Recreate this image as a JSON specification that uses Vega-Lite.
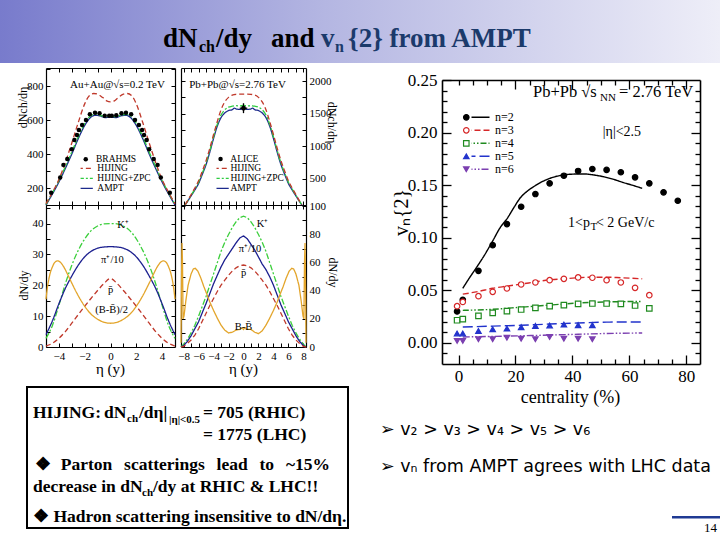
{
"$schema": "https://vega.github.io/schema/vega-lite/v6.json",
"width": 720, "height": 540, "autosize": {"type": "none"}, "padding": 0, "background": "white",
"config": {
 "view": {"stroke": null},
 "font": "Liberation Serif",
 "axis": {"grid": false, "labelFont": "Liberation Serif", "titleFont": "Liberation Serif", "labelColor": "#000", "titleColor": "#000", "tickColor": "#000", "domainColor": "#000", "titleFontWeight": "normal", "labelFlush": false, "labelOverlap": false, "labelBound": false, "minExtent": 0, "maxExtent": 200, "titleBaseline": "middle", "titleAlign": "center", "tickWidth": 1},
 "legend": {"labelFont": "Liberation Serif", "labelColor": "#000", "padding": 0, "rowPadding": 0, "direction": "vertical"}
},
"resolve": {
 "scale": {"x": "independent", "y": "independent", "stroke": "independent", "strokeDash": "independent", "shape": "independent", "fill": "independent"},
 "axis": {"x": "independent", "y": "independent"},
 "legend": {"stroke": "independent", "strokeDash": "independent", "shape": "independent", "fill": "independent"}
},
"layer": [
 {"layer": [
  {"data": {"values": [{"x0": 0, "x1": 720, "y0": 0, "y1": 63}]},
   "mark": {"type": "rect", "stroke": null, "fill": {"gradient": "linear", "x1": 0, "y1": 0, "x2": 1, "y2": 0, "stops": [{"offset": 0, "color": "#787bcc"}, {"offset": 0.45, "color": "#b4b6e2"}, {"offset": 1, "color": "#eeeef8"}]}},
   "encoding": {"x": {"field": "x0", "type": "quantitative", "scale": {"domain": [0, 720], "range": [0, 720], "nice": false, "zero": false}, "axis": null}, "x2": {"field": "x1"},
    "y": {"field": "y0", "type": "quantitative", "scale": {"domain": [0, 63], "range": [0, 63], "nice": false, "zero": false}, "axis": null}, "y2": {"field": "y1"}}},
  {"data": {"values": [{"x": 163, "y": 47, "t": "dN"}, {"x": 216, "y": 47, "t": "/dy"}, {"x": 271, "y": 47, "t": "and"}]},
   "mark": {"type": "text", "align": "left", "baseline": "alphabetic", "fontWeight": "bold", "fontSize": 27, "fill": "#000"},
   "encoding": {"x": {"field": "x", "type": "quantitative", "axis": null}, "y": {"field": "y", "type": "quantitative", "axis": null}, "text": {"field": "t"}}},
  {"data": {"values": [{"x": 199, "y": 52, "t": "ch"}]},
   "mark": {"type": "text", "align": "left", "baseline": "alphabetic", "fontWeight": "bold", "fontSize": 16, "fill": "#000"},
   "encoding": {"x": {"field": "x", "type": "quantitative", "axis": null}, "y": {"field": "y", "type": "quantitative", "axis": null}, "text": {"field": "t"}}},
  {"data": {"values": [{"x": 321, "y": 47, "t": "v"}, {"x": 348, "y": 47, "t": "{2} from AMPT"}]},
   "mark": {"type": "text", "align": "left", "baseline": "alphabetic", "fontWeight": "bold", "fontSize": 27, "fill": "#1b3a6b"},
   "encoding": {"x": {"field": "x", "type": "quantitative", "axis": null}, "y": {"field": "y", "type": "quantitative", "axis": null}, "text": {"field": "t"}}},
  {"data": {"values": [{"x": 335, "y": 52, "t": "n"}]},
   "mark": {"type": "text", "align": "left", "baseline": "alphabetic", "fontWeight": "bold", "fontSize": 16, "fill": "#1b3a6b"},
   "encoding": {"x": {"field": "x", "type": "quantitative", "axis": null}, "y": {"field": "y", "type": "quantitative", "axis": null}, "text": {"field": "t"}}}
 ]},

 {"layer": [
  {"data": {"values": [
    {"m":"AMPT","eta":-5,"v":100},{"m":"AMPT","eta":-4.5,"v":165},{"m":"AMPT","eta":-4,"v":235},{"m":"AMPT","eta":-3.5,"v":315},{"m":"AMPT","eta":-3,"v":400},{"m":"AMPT","eta":-2.5,"v":490},{"m":"AMPT","eta":-2,"v":568},{"m":"AMPT","eta":-1.5,"v":618},{"m":"AMPT","eta":-1.2,"v":628},{"m":"AMPT","eta":-0.8,"v":624},{"m":"AMPT","eta":-0.4,"v":614},{"m":"AMPT","eta":0,"v":618},{"m":"AMPT","eta":0.4,"v":614},{"m":"AMPT","eta":0.8,"v":624},{"m":"AMPT","eta":1.2,"v":628},{"m":"AMPT","eta":1.5,"v":618},{"m":"AMPT","eta":2,"v":568},{"m":"AMPT","eta":2.5,"v":490},{"m":"AMPT","eta":3,"v":400},{"m":"AMPT","eta":3.5,"v":315},{"m":"AMPT","eta":4,"v":235},{"m":"AMPT","eta":4.5,"v":165},{"m":"AMPT","eta":5,"v":100},
    {"m":"HIJING+ZPC","eta":-5,"v":104},{"m":"HIJING+ZPC","eta":-4.5,"v":172},{"m":"HIJING+ZPC","eta":-4,"v":244},{"m":"HIJING+ZPC","eta":-3.5,"v":326},{"m":"HIJING+ZPC","eta":-3,"v":412},{"m":"HIJING+ZPC","eta":-2.5,"v":502},{"m":"HIJING+ZPC","eta":-2,"v":580},{"m":"HIJING+ZPC","eta":-1.5,"v":627},{"m":"HIJING+ZPC","eta":-1.2,"v":634},{"m":"HIJING+ZPC","eta":-0.8,"v":628},{"m":"HIJING+ZPC","eta":-0.4,"v":620},{"m":"HIJING+ZPC","eta":0,"v":622},{"m":"HIJING+ZPC","eta":0.4,"v":620},{"m":"HIJING+ZPC","eta":0.8,"v":628},{"m":"HIJING+ZPC","eta":1.2,"v":634},{"m":"HIJING+ZPC","eta":1.5,"v":627},{"m":"HIJING+ZPC","eta":2,"v":580},{"m":"HIJING+ZPC","eta":2.5,"v":502},{"m":"HIJING+ZPC","eta":3,"v":412},{"m":"HIJING+ZPC","eta":3.5,"v":326},{"m":"HIJING+ZPC","eta":4,"v":244},{"m":"HIJING+ZPC","eta":4.5,"v":172},{"m":"HIJING+ZPC","eta":5,"v":104},
    {"m":"HIJING","eta":-5,"v":108},{"m":"HIJING","eta":-4.5,"v":175},{"m":"HIJING","eta":-4,"v":250},{"m":"HIJING","eta":-3.5,"v":350},{"m":"HIJING","eta":-3,"v":465},{"m":"HIJING","eta":-2.5,"v":585},{"m":"HIJING","eta":-2,"v":695},{"m":"HIJING","eta":-1.7,"v":738},{"m":"HIJING","eta":-1.3,"v":756},{"m":"HIJING","eta":-1,"v":752},{"m":"HIJING","eta":-0.6,"v":732},{"m":"HIJING","eta":-0.3,"v":713},{"m":"HIJING","eta":0,"v":707},{"m":"HIJING","eta":0.3,"v":713},{"m":"HIJING","eta":0.6,"v":732},{"m":"HIJING","eta":1,"v":752},{"m":"HIJING","eta":1.3,"v":756},{"m":"HIJING","eta":1.7,"v":738},{"m":"HIJING","eta":2,"v":695},{"m":"HIJING","eta":2.5,"v":585},{"m":"HIJING","eta":3,"v":465},{"m":"HIJING","eta":3.5,"v":350},{"m":"HIJING","eta":4,"v":250},{"m":"HIJING","eta":4.5,"v":175},{"m":"HIJING","eta":5,"v":108}
   ]},
   "mark": {"type": "line", "strokeWidth": 1.3, "interpolate": "monotone"},
   "encoding": {
    "x": {"field": "eta", "type": "quantitative", "scale": {"domain": [-5, 5], "range": [46, 175], "nice": false, "zero": false},
     "axis": {"orient": "bottom", "offset": -335, "values": [-4,-3,-2,-1,0,1,2,3,4], "tickSize": -4, "labels": false, "domain": true, "domainWidth": 1.2, "title": null}},
    "y": {"field": "v", "type": "quantitative", "scale": {"domain": [100, 906], "range": [205, 68], "nice": false, "zero": false},
     "axis": {"orient": "left", "offset": -46, "values": [200,300,400,500,600,700,800,900], "format": "d", "labelExpr": "datum.value % 200 === 0 ? datum.label : ''", "tickSize": -4, "labelPadding": 7, "labelFontSize": 11, "domain": true, "domainWidth": 1.2, "title": "dNch/dη", "titleFontSize": 12, "titleX": -24, "titleY": 107}},
    "stroke": {"field": "m", "type": "nominal", "scale": {"domain": ["HIJING","HIJING+ZPC","AMPT"], "range": ["#c0392b","#2ecc40","#1c2a8c"]},
     "legend": {"orient": "none", "legendX": 80.6, "legendY": 163.8, "title": null, "symbolType": "M-4,0L4,0", "symbolSize": 14, "symbolStrokeWidth": 1.3, "labelFontSize": 9.5, "labelOffset": 7.2, "clipHeight": 9}},
    "strokeDash": {"field": "m", "type": "nominal", "scale": {"domain": ["HIJING","HIJING+ZPC","AMPT"], "range": [[5,3],[6,2,2,2],[1,0]]},
     "legend": {"orient": "none", "legendX": 80.6, "legendY": 163.8, "title": null, "symbolType": "M-4,0L4,0", "symbolSize": 14, "symbolStrokeWidth": 1.3, "labelFontSize": 9.5, "labelOffset": 7.2, "clipHeight": 9}}
   }},
  {"data": {"values": [
    {"src":"BRAHMS","eta":-4.6,"v":172},{"src":"BRAHMS","eta":-3.9,"v":262},{"src":"BRAHMS","eta":-3.65,"v":336},{"src":"BRAHMS","eta":-3.35,"v":371},{"src":"BRAHMS","eta":-3,"v":428},{"src":"BRAHMS","eta":-2.8,"v":482},{"src":"BRAHMS","eta":-2.6,"v":512},{"src":"BRAHMS","eta":-2.45,"v":541},{"src":"BRAHMS","eta":-2.2,"v":571},{"src":"BRAHMS","eta":-1.9,"v":600},{"src":"BRAHMS","eta":-1.6,"v":634},{"src":"BRAHMS","eta":-1.2,"v":643},{"src":"BRAHMS","eta":-0.85,"v":640},{"src":"BRAHMS","eta":-0.45,"v":625},{"src":"BRAHMS","eta":-0.1,"v":625},
    {"src":"BRAHMS","eta":0.1,"v":625},{"src":"BRAHMS","eta":0.45,"v":628},{"src":"BRAHMS","eta":0.85,"v":640},{"src":"BRAHMS","eta":1.2,"v":643},{"src":"BRAHMS","eta":1.6,"v":634},{"src":"BRAHMS","eta":1.9,"v":600},{"src":"BRAHMS","eta":2.2,"v":571},{"src":"BRAHMS","eta":2.45,"v":541},{"src":"BRAHMS","eta":2.6,"v":512},{"src":"BRAHMS","eta":2.8,"v":482},{"src":"BRAHMS","eta":3,"v":428},{"src":"BRAHMS","eta":3.35,"v":371},{"src":"BRAHMS","eta":3.65,"v":336},{"src":"BRAHMS","eta":3.9,"v":262},{"src":"BRAHMS","eta":4.6,"v":172}
   ]},
   "mark": {"type": "point", "filled": true, "size": 20, "opacity": 1},
   "encoding": {
    "x": {"field": "eta", "type": "quantitative", "axis": {"orient": "top", "offset": -68, "values": [-4,-3,-2,-1,0,1,2,3,4], "tickSize": -4, "labels": false, "domain": true, "domainWidth": 1.2, "title": null}},
    "y": {"field": "v", "type": "quantitative", "axis": {"orient": "right", "offset": -545, "values": [200,300,400,500,600,700,800,900], "tickSize": -4, "labels": false, "domain": true, "domainWidth": 1.2, "title": null}},
    "fill": {"field": "src", "type": "nominal", "scale": {"range": ["#000000"]},
     "legend": {"orient": "none", "legendX": 81, "legendY": 154.8, "title": null, "symbolSize": 20, "labelFontSize": 9.5, "labelOffset": 5.5, "clipHeight": 9}}
   }},
  {"data": {"values": [{"eta": 0.54, "v": 806, "t": "Au+Au@√s=0.2 TeV"}]},
   "mark": {"type": "text", "fontSize": 11, "align": "center", "baseline": "middle"},
   "encoding": {"x": {"field": "eta", "type": "quantitative", "axis": null}, "y": {"field": "v", "type": "quantitative", "axis": null}, "text": {"field": "t"}}}
 ],
 "resolve": {"axis": {"x": "independent", "y": "independent"}}},

 {"layer": [
  {"data": {"values": [
    {"m":"AMPT","eta":-7.8,"v":100},{"m":"AMPT","eta":-7.5,"v":150},{"m":"AMPT","eta":-7,"v":240},{"m":"AMPT","eta":-6.5,"v":330},{"m":"AMPT","eta":-6,"v":430},{"m":"AMPT","eta":-5.5,"v":570},{"m":"AMPT","eta":-5,"v":720},{"m":"AMPT","eta":-4.5,"v":910},{"m":"AMPT","eta":-4,"v":1120},{"m":"AMPT","eta":-3.5,"v":1310},{"m":"AMPT","eta":-3,"v":1440},{"m":"AMPT","eta":-2.5,"v":1510},{"m":"AMPT","eta":-2,"v":1548},{"m":"AMPT","eta":-1.5,"v":1562},{"m":"AMPT","eta":-1.2,"v":1585},{"m":"AMPT","eta":-1,"v":1572},{"m":"AMPT","eta":-0.5,"v":1565},{"m":"AMPT","eta":0,"v":1582},{"m":"AMPT","eta":0.5,"v":1565},{"m":"AMPT","eta":1,"v":1572},{"m":"AMPT","eta":1.2,"v":1585},{"m":"AMPT","eta":1.5,"v":1562},{"m":"AMPT","eta":2,"v":1548},{"m":"AMPT","eta":2.5,"v":1510},{"m":"AMPT","eta":3,"v":1440},{"m":"AMPT","eta":3.5,"v":1310},{"m":"AMPT","eta":4,"v":1120},{"m":"AMPT","eta":4.5,"v":910},{"m":"AMPT","eta":5,"v":720},{"m":"AMPT","eta":5.5,"v":570},{"m":"AMPT","eta":6,"v":430},{"m":"AMPT","eta":6.5,"v":330},{"m":"AMPT","eta":7,"v":240},{"m":"AMPT","eta":7.5,"v":150},{"m":"AMPT","eta":7.8,"v":100},
    {"m":"HIJING+ZPC","eta":-7.8,"v":102},{"m":"HIJING+ZPC","eta":-7.5,"v":155},{"m":"HIJING+ZPC","eta":-7,"v":250},{"m":"HIJING+ZPC","eta":-6.5,"v":345},{"m":"HIJING+ZPC","eta":-6,"v":450},{"m":"HIJING+ZPC","eta":-5.5,"v":590},{"m":"HIJING+ZPC","eta":-5,"v":745},{"m":"HIJING+ZPC","eta":-4.5,"v":935},{"m":"HIJING+ZPC","eta":-4,"v":1145},{"m":"HIJING+ZPC","eta":-3.5,"v":1340},{"m":"HIJING+ZPC","eta":-3,"v":1480},{"m":"HIJING+ZPC","eta":-2.5,"v":1560},{"m":"HIJING+ZPC","eta":-2,"v":1600},{"m":"HIJING+ZPC","eta":-1.5,"v":1615},{"m":"HIJING+ZPC","eta":-1.2,"v":1620},{"m":"HIJING+ZPC","eta":-1,"v":1622},{"m":"HIJING+ZPC","eta":-0.5,"v":1618},{"m":"HIJING+ZPC","eta":0,"v":1625},{"m":"HIJING+ZPC","eta":0.5,"v":1618},{"m":"HIJING+ZPC","eta":1,"v":1622},{"m":"HIJING+ZPC","eta":1.2,"v":1620},{"m":"HIJING+ZPC","eta":1.5,"v":1615},{"m":"HIJING+ZPC","eta":2,"v":1600},{"m":"HIJING+ZPC","eta":2.5,"v":1560},{"m":"HIJING+ZPC","eta":3,"v":1480},{"m":"HIJING+ZPC","eta":3.5,"v":1340},{"m":"HIJING+ZPC","eta":4,"v":1145},{"m":"HIJING+ZPC","eta":4.5,"v":935},{"m":"HIJING+ZPC","eta":5,"v":745},{"m":"HIJING+ZPC","eta":5.5,"v":590},{"m":"HIJING+ZPC","eta":6,"v":450},{"m":"HIJING+ZPC","eta":6.5,"v":345},{"m":"HIJING+ZPC","eta":7,"v":250},{"m":"HIJING+ZPC","eta":7.5,"v":155},{"m":"HIJING+ZPC","eta":7.8,"v":102},
    {"m":"HIJING","eta":-7.8,"v":105},{"m":"HIJING","eta":-7.5,"v":160},{"m":"HIJING","eta":-7,"v":260},{"m":"HIJING","eta":-6.5,"v":360},{"m":"HIJING","eta":-6,"v":470},{"m":"HIJING","eta":-5.5,"v":620},{"m":"HIJING","eta":-5,"v":780},{"m":"HIJING","eta":-4.5,"v":970},{"m":"HIJING","eta":-4,"v":1180},{"m":"HIJING","eta":-3.5,"v":1380},{"m":"HIJING","eta":-3,"v":1560},{"m":"HIJING","eta":-2.5,"v":1680},{"m":"HIJING","eta":-2,"v":1750},{"m":"HIJING","eta":-1.5,"v":1785},{"m":"HIJING","eta":-1.2,"v":1793},{"m":"HIJING","eta":-1,"v":1797},{"m":"HIJING","eta":-0.5,"v":1800},{"m":"HIJING","eta":0,"v":1800},{"m":"HIJING","eta":0.5,"v":1800},{"m":"HIJING","eta":1,"v":1797},{"m":"HIJING","eta":1.2,"v":1793},{"m":"HIJING","eta":1.5,"v":1785},{"m":"HIJING","eta":2,"v":1750},{"m":"HIJING","eta":2.5,"v":1680},{"m":"HIJING","eta":3,"v":1560},{"m":"HIJING","eta":3.5,"v":1380},{"m":"HIJING","eta":4,"v":1180},{"m":"HIJING","eta":4.5,"v":970},{"m":"HIJING","eta":5,"v":780},{"m":"HIJING","eta":5.5,"v":620},{"m":"HIJING","eta":6,"v":470},{"m":"HIJING","eta":6.5,"v":360},{"m":"HIJING","eta":7,"v":260},{"m":"HIJING","eta":7.5,"v":160},{"m":"HIJING","eta":7.8,"v":105}
   ]},
   "mark": {"type": "line", "strokeWidth": 1.3, "interpolate": "monotone"},
   "encoding": {
    "x": {"field": "eta", "type": "quantitative", "scale": {"domain": [-8.35, 8.35], "range": [181, 306], "nice": false, "zero": false},
     "axis": {"orient": "bottom", "offset": -335, "values": [-8,-7,-6,-5,-4,-3,-2,-1,0,1,2,3,4,5,6,7,8], "tickSize": -4, "labels": false, "domain": true, "domainWidth": 1.2, "title": null}},
    "y": {"field": "v", "type": "quantitative", "scale": {"domain": [100, 2200], "range": [205, 68], "nice": false, "zero": false},
     "axis": {"orient": "right", "offset": -414, "values": [250,500,750,1000,1250,1500,1750,2000], "format": "d", "labelExpr": "datum.value % 500 === 0 ? datum.label : ''", "tickSize": -4, "labelPadding": 7, "labelFontSize": 11, "domain": true, "domainWidth": 1.2, "title": "dNch/dη", "titleFontSize": 12, "titleX": 25, "titleY": 122}},
    "stroke": {"field": "m", "type": "nominal", "scale": {"domain": ["HIJING","HIJING+ZPC","AMPT"], "range": ["#c0392b","#2ecc40","#1c2a8c"]},
     "legend": {"orient": "none", "legendX": 216.5, "legendY": 163.8, "title": null, "symbolType": "M-4,0L4,0", "symbolSize": 14, "symbolStrokeWidth": 1.3, "labelFontSize": 9.5, "labelOffset": 4.5, "clipHeight": 9}},
    "strokeDash": {"field": "m", "type": "nominal", "scale": {"domain": ["HIJING","HIJING+ZPC","AMPT"], "range": [[5,3],[6,2,2,2],[1,0]]},
     "legend": {"orient": "none", "legendX": 216.5, "legendY": 163.8, "title": null, "symbolType": "M-4,0L4,0", "symbolSize": 14, "symbolStrokeWidth": 1.3, "labelFontSize": 9.5, "labelOffset": 4.5, "clipHeight": 9}}
   }},
  {"data": {"values": [{"src": "ALICE", "eta": 0, "v": 1584}]},
   "mark": {"type": "point", "filled": true, "size": 24, "opacity": 1},
   "encoding": {
    "x": {"field": "eta", "type": "quantitative", "axis": {"orient": "top", "offset": -68, "values": [-8,-7,-6,-5,-4,-3,-2,-1,0,1,2,3,4,5,6,7,8], "tickSize": -4, "labels": false, "domain": true, "domainWidth": 1.2, "title": null}},
    "y": {"field": "v", "type": "quantitative", "axis": {"orient": "left", "offset": -181, "values": [250,500,750,1000,1250,1500,1750,2000], "tickSize": -4, "labels": false, "domain": true, "domainWidth": 1.2, "title": null}},
    "fill": {"field": "src", "type": "nominal", "scale": {"range": ["#000000"]},
     "legend": {"orient": "none", "legendX": 215.8, "legendY": 154.5, "title": null, "symbolSize": 20, "labelFontSize": 9.5, "labelOffset": 5, "clipHeight": 9}}
   }},
  {"data": {"values": [{"eta": 0, "lo": 1508, "hi": 1660}]},
   "mark": {"type": "rule", "strokeWidth": 1.3, "color": "#000"},
   "encoding": {"x": {"field": "eta", "type": "quantitative", "axis": null}, "y": {"field": "lo", "type": "quantitative", "axis": null}, "y2": {"field": "hi"}}},
  {"data": {"values": [{"e1": -0.5, "e2": 0.5, "v": 1584}]},
   "mark": {"type": "rule", "strokeWidth": 1.3, "color": "#000"},
   "encoding": {"x": {"field": "e1", "type": "quantitative", "axis": null}, "x2": {"field": "e2"}, "y": {"field": "v", "type": "quantitative", "axis": null}}},
  {"data": {"values": [{"eta": -0.8, "v": 1939, "t": "Pb+Pb@√s=2.76 TeV"}]},
   "mark": {"type": "text", "fontSize": 11, "align": "center", "baseline": "middle"},
   "encoding": {"x": {"field": "eta", "type": "quantitative", "axis": null}, "y": {"field": "v", "type": "quantitative", "axis": null}, "text": {"field": "t"}}}
 ],
 "resolve": {"axis": {"x": "independent", "y": "independent"}}},

 {"layer": [
  {"data": {"values": [
    {"s":"K","eta":-5,"v":2.8},{"s":"K","eta":-4.5,"v":7},{"s":"K","eta":-4,"v":13.5},{"s":"K","eta":-3.5,"v":20.5},{"s":"K","eta":-3,"v":26.5},{"s":"K","eta":-2.5,"v":31.3},{"s":"K","eta":-2,"v":35},{"s":"K","eta":-1.5,"v":37.7},{"s":"K","eta":-1,"v":39.2},{"s":"K","eta":-0.5,"v":39.9},{"s":"K","eta":0,"v":40},{"s":"K","eta":0.5,"v":39.9},{"s":"K","eta":1,"v":39.2},{"s":"K","eta":1.5,"v":37.7},{"s":"K","eta":2,"v":35},{"s":"K","eta":2.5,"v":31.3},{"s":"K","eta":3,"v":26.5},{"s":"K","eta":3.5,"v":20.5},{"s":"K","eta":4,"v":13.5},{"s":"K","eta":4.5,"v":7},{"s":"K","eta":5,"v":2.8},
    {"s":"pi","eta":-5,"v":4},{"s":"pi","eta":-4.5,"v":8.5},{"s":"pi","eta":-4,"v":14},{"s":"pi","eta":-3.5,"v":19},{"s":"pi","eta":-3,"v":23},{"s":"pi","eta":-2.5,"v":26.5},{"s":"pi","eta":-2,"v":29.2},{"s":"pi","eta":-1.5,"v":31},{"s":"pi","eta":-1,"v":32},{"s":"pi","eta":-0.5,"v":32.4},{"s":"pi","eta":0,"v":32.5},{"s":"pi","eta":0.5,"v":32.4},{"s":"pi","eta":1,"v":32},{"s":"pi","eta":1.5,"v":31},{"s":"pi","eta":2,"v":29.2},{"s":"pi","eta":2.5,"v":26.5},{"s":"pi","eta":3,"v":23},{"s":"pi","eta":3.5,"v":19},{"s":"pi","eta":4,"v":14},{"s":"pi","eta":4.5,"v":8.5},{"s":"pi","eta":5,"v":4},
    {"s":"pbar","eta":-5,"v":0.3},{"s":"pbar","eta":-4.5,"v":1.2},{"s":"pbar","eta":-4,"v":2.8},{"s":"pbar","eta":-3.5,"v":5},{"s":"pbar","eta":-3,"v":7.7},{"s":"pbar","eta":-2.5,"v":10.5},{"s":"pbar","eta":-2,"v":13.2},{"s":"pbar","eta":-1.5,"v":15.8},{"s":"pbar","eta":-1,"v":18.3},{"s":"pbar","eta":-0.5,"v":20.6},{"s":"pbar","eta":0,"v":22.2},{"s":"pbar","eta":0.5,"v":20.6},{"s":"pbar","eta":1,"v":18.3},{"s":"pbar","eta":1.5,"v":15.8},{"s":"pbar","eta":2,"v":13.2},{"s":"pbar","eta":2.5,"v":10.5},{"s":"pbar","eta":3,"v":7.7},{"s":"pbar","eta":3.5,"v":5},{"s":"pbar","eta":4,"v":2.8},{"s":"pbar","eta":4.5,"v":1.2},{"s":"pbar","eta":5,"v":0.3},
    {"s":"B","eta":-5,"v":15.5},{"s":"B","eta":-4.9,"v":19},{"s":"B","eta":-4.7,"v":23.5},{"s":"B","eta":-4.5,"v":26},{"s":"B","eta":-4.3,"v":27.5},{"s":"B","eta":-4.1,"v":27.9},{"s":"B","eta":-3.9,"v":27.5},{"s":"B","eta":-3.6,"v":25.8},{"s":"B","eta":-3.3,"v":23.3},{"s":"B","eta":-3,"v":20.7},{"s":"B","eta":-2.5,"v":16.6},{"s":"B","eta":-2,"v":13.2},{"s":"B","eta":-1.5,"v":10.6},{"s":"B","eta":-1,"v":9},{"s":"B","eta":-0.5,"v":8},{"s":"B","eta":0,"v":7.7},{"s":"B","eta":0.5,"v":8},{"s":"B","eta":1,"v":9},{"s":"B","eta":1.5,"v":10.6},{"s":"B","eta":2,"v":13.2},{"s":"B","eta":2.5,"v":16.6},{"s":"B","eta":3,"v":20.7},{"s":"B","eta":3.3,"v":23.3},{"s":"B","eta":3.6,"v":25.8},{"s":"B","eta":3.9,"v":27.5},{"s":"B","eta":4.1,"v":27.9},{"s":"B","eta":4.3,"v":27.5},{"s":"B","eta":4.5,"v":26},{"s":"B","eta":4.7,"v":23.5},{"s":"B","eta":4.9,"v":19},{"s":"B","eta":5,"v":15.5}
   ]},
   "mark": {"type": "line", "strokeWidth": 1.3, "interpolate": "monotone"},
   "encoding": {
    "x": {"field": "eta", "type": "quantitative", "scale": {"domain": [-5, 5], "range": [46, 175], "nice": false, "zero": false},
     "axis": {"orient": "bottom", "offset": -193, "values": [-4,-3,-2,-1,0,1,2,3,4], "format": "d", "labelExpr": "datum.value % 2 === 0 ? datum.label : ''", "tickSize": -4, "labelPadding": 7, "labelFontSize": 11, "domain": true, "domainWidth": 1.2, "title": "η (y)", "titleFontSize": 15, "titleX": 110, "titleY": 21}},
    "y": {"field": "v", "type": "quantitative", "scale": {"domain": [0, 46], "range": [347, 205], "nice": false, "zero": false},
     "axis": {"orient": "left", "offset": -46, "values": [0,5,10,15,20,25,30,35,40,45], "format": "d", "labelExpr": "datum.value % 10 === 0 ? datum.label : ''", "tickSize": -4, "labelPadding": 7, "labelFontSize": 11, "domain": true, "domainWidth": 1.2, "title": "dN/dy", "titleFontSize": 12, "titleX": -23, "titleY": 285}},
    "stroke": {"field": "s", "type": "nominal", "scale": {"domain": ["K","pi","pbar","B"], "range": ["#3ccf3c","#1b1f8f","#c0392b","#e3a52b"]}, "legend": null},
    "strokeDash": {"field": "s", "type": "nominal", "scale": {"domain": ["K","pi","pbar","B"], "range": [[6,2,2,2],[1,0],[5,3],[1,0]]}, "legend": null}
   }},
  {"data": {"values": [{"eta": 0.97, "v": 39.5, "t": "K⁺"}, {"eta": 0.15, "v": 28.2, "t": "π⁺/10"}, {"eta": 0, "v": 18.5, "t": "p̄"}, {"eta": 0.09, "v": 12, "t": "(B-B̄)/2"}]},
   "mark": {"type": "text", "fontSize": 10.5, "align": "center", "baseline": "middle"},
   "encoding": {
    "x": {"field": "eta", "type": "quantitative", "axis": {"orient": "top", "offset": -205, "values": [-4,-3,-2,-1,0,1,2,3,4], "tickSize": -4, "labels": false, "domain": true, "domainWidth": 1.2, "title": null}},
    "y": {"field": "v", "type": "quantitative", "axis": {"orient": "right", "offset": -545, "values": [5,10,15,20,25,30,35,40,45], "tickSize": -4, "labels": false, "domain": true, "domainWidth": 1.2, "title": null}},
    "text": {"field": "t"}
   }}
 ],
 "resolve": {"axis": {"x": "independent", "y": "independent"}}},

 {"layer": [
  {"data": {"values": [
    {"s":"K","eta":-8.35,"v":0},{"s":"K","eta":-8,"v":2},{"s":"K","eta":-7.5,"v":5.5},{"s":"K","eta":-7,"v":10},{"s":"K","eta":-6.5,"v":15.5},{"s":"K","eta":-6,"v":22},{"s":"K","eta":-5.5,"v":29},{"s":"K","eta":-5,"v":36},{"s":"K","eta":-4.5,"v":44},{"s":"K","eta":-4,"v":52},{"s":"K","eta":-3.5,"v":60},{"s":"K","eta":-3,"v":68},{"s":"K","eta":-2.5,"v":74.5},{"s":"K","eta":-2,"v":80},{"s":"K","eta":-1.5,"v":85},{"s":"K","eta":-1,"v":89},{"s":"K","eta":-0.5,"v":92},{"s":"K","eta":0,"v":93},{"s":"K","eta":0.5,"v":92},{"s":"K","eta":1,"v":89},{"s":"K","eta":1.5,"v":85},{"s":"K","eta":2,"v":80},{"s":"K","eta":2.5,"v":74.5},{"s":"K","eta":3,"v":68},{"s":"K","eta":3.5,"v":60},{"s":"K","eta":4,"v":52},{"s":"K","eta":4.5,"v":44},{"s":"K","eta":5,"v":36},{"s":"K","eta":5.5,"v":29},{"s":"K","eta":6,"v":22},{"s":"K","eta":6.5,"v":15.5},{"s":"K","eta":7,"v":10},{"s":"K","eta":7.5,"v":5.5},{"s":"K","eta":8,"v":2},{"s":"K","eta":8.35,"v":0},
    {"s":"pi","eta":-8.35,"v":0},{"s":"pi","eta":-8,"v":1},{"s":"pi","eta":-7.5,"v":4},{"s":"pi","eta":-7,"v":8},{"s":"pi","eta":-6.5,"v":13},{"s":"pi","eta":-6,"v":18},{"s":"pi","eta":-5.5,"v":24.5},{"s":"pi","eta":-5,"v":31},{"s":"pi","eta":-4.5,"v":38},{"s":"pi","eta":-4,"v":45},{"s":"pi","eta":-3.5,"v":51},{"s":"pi","eta":-3,"v":57},{"s":"pi","eta":-2.5,"v":62},{"s":"pi","eta":-2,"v":66},{"s":"pi","eta":-1.5,"v":70},{"s":"pi","eta":-1,"v":74},{"s":"pi","eta":-0.5,"v":77.5},{"s":"pi","eta":0,"v":79},{"s":"pi","eta":0.5,"v":77},{"s":"pi","eta":1,"v":73},{"s":"pi","eta":1.5,"v":69},{"s":"pi","eta":2,"v":64},{"s":"pi","eta":2.5,"v":59},{"s":"pi","eta":3,"v":55},{"s":"pi","eta":3.5,"v":50},{"s":"pi","eta":4,"v":44},{"s":"pi","eta":4.5,"v":37},{"s":"pi","eta":5,"v":30},{"s":"pi","eta":5.5,"v":24},{"s":"pi","eta":6,"v":18},{"s":"pi","eta":6.5,"v":13},{"s":"pi","eta":7,"v":8},{"s":"pi","eta":7.5,"v":4},{"s":"pi","eta":8,"v":1},{"s":"pi","eta":8.35,"v":0},
    {"s":"pbar","eta":-8.35,"v":0},{"s":"pbar","eta":-8,"v":0.5},{"s":"pbar","eta":-7.5,"v":2.5},{"s":"pbar","eta":-7,"v":5},{"s":"pbar","eta":-6.5,"v":8.5},{"s":"pbar","eta":-6,"v":13},{"s":"pbar","eta":-5.5,"v":18.5},{"s":"pbar","eta":-5,"v":24},{"s":"pbar","eta":-4.5,"v":29.5},{"s":"pbar","eta":-4,"v":34.5},{"s":"pbar","eta":-3.5,"v":39.5},{"s":"pbar","eta":-3,"v":44},{"s":"pbar","eta":-2.5,"v":47.5},{"s":"pbar","eta":-2,"v":51},{"s":"pbar","eta":-1.5,"v":54},{"s":"pbar","eta":-1,"v":56.3},{"s":"pbar","eta":-0.5,"v":57.8},{"s":"pbar","eta":0,"v":58.3},{"s":"pbar","eta":0.5,"v":57.8},{"s":"pbar","eta":1,"v":56.3},{"s":"pbar","eta":1.5,"v":54},{"s":"pbar","eta":2,"v":51},{"s":"pbar","eta":2.5,"v":47.5},{"s":"pbar","eta":3,"v":44},{"s":"pbar","eta":3.5,"v":39.5},{"s":"pbar","eta":4,"v":34.5},{"s":"pbar","eta":4.5,"v":29.5},{"s":"pbar","eta":5,"v":24},{"s":"pbar","eta":5.5,"v":18.5},{"s":"pbar","eta":6,"v":13},{"s":"pbar","eta":6.5,"v":8.5},{"s":"pbar","eta":7,"v":5},{"s":"pbar","eta":7.5,"v":2.5},{"s":"pbar","eta":8,"v":0.5},{"s":"pbar","eta":8.35,"v":0},
    {"s":"B","eta":-8.35,"v":3},{"s":"B","eta":-8.3,"v":40},{"s":"B","eta":-8.22,"v":74},{"s":"B","eta":-8.15,"v":60},{"s":"B","eta":-8.07,"v":20},{"s":"B","eta":-7.95,"v":22},{"s":"B","eta":-7.7,"v":33},{"s":"B","eta":-7.4,"v":44},{"s":"B","eta":-7,"v":52},{"s":"B","eta":-6.7,"v":55.5},{"s":"B","eta":-6.45,"v":56},{"s":"B","eta":-6.1,"v":54},{"s":"B","eta":-5.7,"v":49},{"s":"B","eta":-5.3,"v":43},{"s":"B","eta":-5,"v":39},{"s":"B","eta":-4.5,"v":32},{"s":"B","eta":-4,"v":26},{"s":"B","eta":-3.5,"v":20.5},{"s":"B","eta":-3,"v":15.5},{"s":"B","eta":-2.5,"v":12},{"s":"B","eta":-2,"v":10},{"s":"B","eta":-1.5,"v":10.5},{"s":"B","eta":-1,"v":12},{"s":"B","eta":-0.5,"v":12.5},{"s":"B","eta":-0.2,"v":13.5},{"s":"B","eta":0,"v":12.5},{"s":"B","eta":0.2,"v":13.8},{"s":"B","eta":0.5,"v":12.5},{"s":"B","eta":1,"v":12.5},{"s":"B","eta":1.5,"v":10.5},{"s":"B","eta":2,"v":9.5},{"s":"B","eta":2.5,"v":11.5},{"s":"B","eta":3,"v":15.5},{"s":"B","eta":3.5,"v":20.5},{"s":"B","eta":4,"v":26},{"s":"B","eta":4.5,"v":32},{"s":"B","eta":5,"v":39},{"s":"B","eta":5.3,"v":43},{"s":"B","eta":5.7,"v":49},{"s":"B","eta":6.1,"v":54},{"s":"B","eta":6.45,"v":56},{"s":"B","eta":6.7,"v":55.5},{"s":"B","eta":7,"v":52},{"s":"B","eta":7.4,"v":44},{"s":"B","eta":7.7,"v":33},{"s":"B","eta":7.95,"v":22},{"s":"B","eta":8.07,"v":20},{"s":"B","eta":8.15,"v":60},{"s":"B","eta":8.22,"v":74},{"s":"B","eta":8.3,"v":40},{"s":"B","eta":8.35,"v":3}
   ]},
   "mark": {"type": "line", "strokeWidth": 1.3},
   "encoding": {
    "x": {"field": "eta", "type": "quantitative", "scale": {"domain": [-8.35, 8.35], "range": [181, 306], "nice": false, "zero": false},
     "axis": {"orient": "bottom", "offset": -193, "values": [-8,-7,-6,-5,-4,-3,-2,-1,0,1,2,3,4,5,6,7,8], "format": "d", "labelExpr": "datum.value % 2 === 0 ? datum.label : ''", "tickSize": -4, "labelPadding": 7, "labelFontSize": 11, "domain": true, "domainWidth": 1.2, "title": "η (y)", "titleFontSize": 15, "titleX": 243, "titleY": 21}},
    "y": {"field": "v", "type": "quantitative", "scale": {"domain": [0, 101], "range": [347, 205], "nice": false, "zero": false},
     "axis": {"orient": "right", "offset": -414, "values": [0,10,20,30,40,50,60,70,80,90,100], "format": "d", "labelExpr": "datum.value % 20 === 0 ? datum.label : ''", "tickSize": -4, "labelPadding": 7, "labelFontSize": 11, "domain": true, "domainWidth": 1.2, "title": "dN/dy", "titleFontSize": 12, "titleX": 26, "titleY": 272}},
    "stroke": {"field": "s", "type": "nominal", "scale": {"domain": ["K","pi","pbar","B"], "range": ["#3ccf3c","#1b1f8f","#c0392b","#e3a52b"]}, "legend": null},
    "strokeDash": {"field": "s", "type": "nominal", "scale": {"domain": ["K","pi","pbar","B"], "range": [[6,2,2,2],[1,0],[5,3],[1,0]]}, "legend": null}
   }},
  {"data": {"values": [{"eta": 2.54, "v": 87.5, "t": "K⁺"}, {"eta": 0.87, "v": 69.5, "t": "π⁺/10"}, {"eta": 0, "v": 52.8, "t": "p̄"}, {"eta": 0, "v": 14, "t": "B-B̄"}]},
   "mark": {"type": "text", "fontSize": 10.5, "align": "center", "baseline": "middle"},
   "encoding": {
    "x": {"field": "eta", "type": "quantitative", "axis": {"orient": "top", "offset": -205, "values": [-8,-7,-6,-5,-4,-3,-2,-1,0,1,2,3,4,5,6,7,8], "tickSize": -4, "labels": false, "domain": true, "domainWidth": 1.2, "title": null}},
    "y": {"field": "v", "type": "quantitative", "axis": {"orient": "left", "offset": -181, "values": [10,20,30,40,50,60,70,80,90,100], "tickSize": -4, "labels": false, "domain": true, "domainWidth": 1.2, "title": null}},
    "text": {"field": "t"}
   }}
 ],
 "resolve": {"axis": {"x": "independent", "y": "independent"}}},

 {"layer": [
  {"data": {"values": [
    {"n":"n=2","c":1.5,"v":0.052},{"n":"n=2","c":4,"v":0.0625},{"n":"n=2","c":6.5,"v":0.0725},{"n":"n=2","c":9,"v":0.083},{"n":"n=2","c":12,"v":0.097},{"n":"n=2","c":14.7,"v":0.11},{"n":"n=2","c":17,"v":0.118},{"n":"n=2","c":19.5,"v":0.129},{"n":"n=2","c":21.7,"v":0.138},{"n":"n=2","c":24,"v":0.144},{"n":"n=2","c":26.4,"v":0.1486},{"n":"n=2","c":29,"v":0.1528},{"n":"n=2","c":32.2,"v":0.1566},{"n":"n=2","c":36.8,"v":0.1597},{"n":"n=2","c":40,"v":0.1605},{"n":"n=2","c":43.9,"v":0.1607},{"n":"n=2","c":47.5,"v":0.1597},{"n":"n=2","c":51,"v":0.158},{"n":"n=2","c":54.5,"v":0.1555},{"n":"n=2","c":58,"v":0.1524},{"n":"n=2","c":61,"v":0.15},{"n":"n=2","c":64.5,"v":0.147},
    {"n":"n=3","c":1.5,"v":0.0464},{"n":"n=3","c":7,"v":0.049},{"n":"n=3","c":12,"v":0.052},{"n":"n=3","c":17,"v":0.054},{"n":"n=3","c":22,"v":0.056},{"n":"n=3","c":27,"v":0.058},{"n":"n=3","c":32,"v":0.06},{"n":"n=3","c":37,"v":0.061},{"n":"n=3","c":42,"v":0.062},{"n":"n=3","c":47,"v":0.0625},{"n":"n=3","c":52,"v":0.0625},{"n":"n=3","c":57,"v":0.062},{"n":"n=3","c":64.5,"v":0.061},
    {"n":"n=4","c":1.5,"v":0.031},{"n":"n=4","c":12,"v":0.032},{"n":"n=4","c":22,"v":0.034},{"n":"n=4","c":32,"v":0.036},{"n":"n=4","c":42,"v":0.038},{"n":"n=4","c":52,"v":0.039},{"n":"n=4","c":64.5,"v":0.0395},
    {"n":"n=5","c":1.5,"v":0.0152},{"n":"n=5","c":12,"v":0.016},{"n":"n=5","c":22,"v":0.0168},{"n":"n=5","c":32,"v":0.018},{"n":"n=5","c":42,"v":0.019},{"n":"n=5","c":52,"v":0.0198},{"n":"n=5","c":64.5,"v":0.02},
    {"n":"n=6","c":1.5,"v":0.0057},{"n":"n=6","c":12,"v":0.0062},{"n":"n=6","c":22,"v":0.0068},{"n":"n=6","c":32,"v":0.0075},{"n":"n=6","c":42,"v":0.0083},{"n":"n=6","c":52,"v":0.009},{"n":"n=6","c":64.5,"v":0.0095}
   ]},
   "mark": {"type": "line", "strokeWidth": 1.4, "interpolate": "monotone"},
   "encoding": {
    "x": {"field": "c", "type": "quantitative", "scale": {"domain": [-5.8, 84.8], "range": [442, 700], "nice": false, "zero": false},
     "axis": {"orient": "bottom", "offset": -176, "values": [0,20,40,60,80], "format": "d", "tickSize": -9, "tickWidth": 1.3, "labelPadding": 13, "labelFontSize": 17, "domain": true, "domainWidth": 1.6, "title": "centrality (%)", "titleFontSize": 18, "titleX": 570, "titleY": 33}},
    "y": {"field": "v", "type": "quantitative", "scale": {"domain": [-0.02, 0.25], "range": [364, 80], "nice": false, "zero": false},
     "axis": {"orient": "left", "offset": -442, "values": [0,0.05,0.1,0.15,0.2,0.25], "format": ".2f", "tickSize": -9, "tickWidth": 1.3, "labelPadding": 14, "labelFontSize": 17, "domain": true, "domainWidth": 1.6, "title": "vₙ{2}", "titleFontSize": 20, "titleX": -41, "titleY": 212}},
    "stroke": {"field": "n", "type": "nominal", "scale": {"domain": ["n=2","n=3","n=4","n=5","n=6"], "range": ["#000000","#d62728","#1f8a1f","#2233cc","#7b3fb0"]},
     "legend": {"orient": "none", "legendX": 471.5, "legendY": 111.2, "title": null, "symbolType": "M-4,0L4,0", "symbolSize": 36, "symbolStrokeWidth": 1.4, "labelFontSize": 12, "labelOffset": 11.5, "clipHeight": 12.2, "rowPadding": 0}},
    "strokeDash": {"field": "n", "type": "nominal", "scale": {"domain": ["n=2","n=3","n=4","n=5","n=6"], "range": [[1,0],[6,3],[6,2,1.5,2,1.5,2],[10,4],[7,2,1.5,2,1.5,2]]},
     "legend": {"orient": "none", "legendX": 471.5, "legendY": 111.2, "title": null, "symbolType": "M-4,0L4,0", "symbolSize": 36, "symbolStrokeWidth": 1.4, "labelFontSize": 12, "labelOffset": 11.5, "clipHeight": 12.2, "rowPadding": 0}}
   }},
  {"data": {"values": [
    {"n":"n=2","c":-0.5,"v":0.030},{"n":"n=2","c":1.5,"v":0.041},{"n":"n=2","c":7,"v":0.0686},{"n":"n=2","c":12,"v":0.093},{"n":"n=2","c":17,"v":0.113},{"n":"n=2","c":22,"v":0.1295},{"n":"n=2","c":27,"v":0.1416},{"n":"n=2","c":32,"v":0.1518},{"n":"n=2","c":37,"v":0.159},{"n":"n=2","c":42,"v":0.1635},{"n":"n=2","c":47,"v":0.1654},{"n":"n=2","c":52,"v":0.1645},{"n":"n=2","c":57,"v":0.1623},{"n":"n=2","c":62,"v":0.1575},{"n":"n=2","c":67,"v":0.1518},{"n":"n=2","c":72,"v":0.1432},{"n":"n=2","c":77,"v":0.1352},
    {"n":"n=3","c":-0.5,"v":0.035},{"n":"n=3","c":1.5,"v":0.039},{"n":"n=3","c":7,"v":0.0445},{"n":"n=3","c":12,"v":0.0486},{"n":"n=3","c":17,"v":0.0518},{"n":"n=3","c":22,"v":0.0556},{"n":"n=3","c":27,"v":0.0575},{"n":"n=3","c":32,"v":0.0597},{"n":"n=3","c":37,"v":0.061},{"n":"n=3","c":42,"v":0.0623},{"n":"n=3","c":47,"v":0.062},{"n":"n=3","c":52,"v":0.0597},{"n":"n=3","c":57,"v":0.0575},{"n":"n=3","c":62,"v":0.0524},{"n":"n=3","c":67,"v":0.0454},
    {"n":"n=4","c":-0.5,"v":0.0216},{"n":"n=4","c":1.5,"v":0.0226},{"n":"n=4","c":7,"v":0.0257},{"n":"n=4","c":12,"v":0.0286},{"n":"n=4","c":17,"v":0.0302},{"n":"n=4","c":22,"v":0.0318},{"n":"n=4","c":27,"v":0.0333},{"n":"n=4","c":32,"v":0.035},{"n":"n=4","c":37,"v":0.0359},{"n":"n=4","c":42,"v":0.0371},{"n":"n=4","c":47,"v":0.0375},{"n":"n=4","c":52,"v":0.0375},{"n":"n=4","c":57,"v":0.0371},{"n":"n=4","c":62,"v":0.0356},{"n":"n=4","c":67,"v":0.0328},
    {"n":"n=5","c":-0.5,"v":0.009},{"n":"n=5","c":1.5,"v":0.009},{"n":"n=5","c":7,"v":0.0114},{"n":"n=5","c":12,"v":0.013},{"n":"n=5","c":17,"v":0.0137},{"n":"n=5","c":22,"v":0.015},{"n":"n=5","c":27,"v":0.0162},{"n":"n=5","c":32,"v":0.0166},{"n":"n=5","c":37,"v":0.0175},{"n":"n=5","c":42,"v":0.0169},{"n":"n=5","c":47,"v":0.0169},
    {"n":"n=6","c":-0.5,"v":0.002},{"n":"n=6","c":1.5,"v":0.002},{"n":"n=6","c":7,"v":0.0035},{"n":"n=6","c":12,"v":0.0035},{"n":"n=6","c":17,"v":0.005},{"n":"n=6","c":22,"v":0.004},{"n":"n=6","c":27,"v":0.0035},{"n":"n=6","c":32,"v":0.0057},{"n":"n=6","c":37,"v":0.004},{"n":"n=6","c":42,"v":0.004},{"n":"n=6","c":47,"v":0.0035}
   ]},
   "mark": {"type": "point", "filled": true, "size": 30, "strokeWidth": 1.2, "opacity": 1},
   "encoding": {
    "x": {"field": "c", "type": "quantitative", "axis": {"orient": "top", "offset": -80, "values": [0,5,10,15,25,30,35,45,50,55,65,70,75], "tickSize": -5, "tickWidth": 1.3, "labels": false, "domain": true, "domainWidth": 1.6, "title": null}},
    "y": {"field": "v", "type": "quantitative", "axis": {"orient": "right", "offset": -20, "values": [-0.01,0.01,0.02,0.03,0.04,0.06,0.07,0.08,0.09,0.11,0.12,0.13,0.14,0.16,0.17,0.18,0.19,0.21,0.22,0.23,0.24], "tickSize": -5, "tickWidth": 1.3, "labels": false, "domain": true, "domainWidth": 1.6, "title": null}},
    "shape": {"field": "n", "type": "nominal", "scale": {"domain": ["n=2","n=3","n=4","n=5","n=6"], "range": ["circle","circle","square","triangle-up","triangle-down"]},
     "legend": {"orient": "none", "legendX": 460.3, "legendY": 111.2, "title": null, "symbolSize": 30, "symbolStrokeWidth": 1.2, "labelFontSize": 12, "labelExpr": "''", "clipHeight": 12.2, "rowPadding": 0}},
    "stroke": {"field": "n", "type": "nominal", "scale": {"domain": ["n=2","n=3","n=4","n=5","n=6"], "range": ["#000000","#d62728","#1f8a1f","#2233cc","#7b3fb0"]},
     "legend": {"orient": "none", "legendX": 460.3, "legendY": 111.2, "title": null, "symbolSize": 30, "symbolStrokeWidth": 1.2, "labelFontSize": 12, "labelExpr": "''", "clipHeight": 12.2, "rowPadding": 0}},
    "fill": {"field": "n", "type": "nominal", "scale": {"domain": ["n=2","n=3","n=4","n=5","n=6"], "range": ["#000000","#ffffff","#ffffff","#2233cc","#7b3fb0"]},
     "legend": {"orient": "none", "legendX": 460.3, "legendY": 111.2, "title": null, "symbolSize": 30, "symbolStrokeWidth": 1.2, "labelFontSize": 12, "labelExpr": "''", "clipHeight": 12.2, "rowPadding": 0}}
   }},
  {"data": {"values": [{"c": 26.15, "v": 0.2336, "t": "Pb+Pb √s"}, {"c": 56.35, "v": 0.2336, "t": "= 2.76 TeV"}]},
   "mark": {"type": "text", "fontSize": 16.5, "align": "left", "baseline": "alphabetic"},
   "encoding": {
    "x": {"field": "c", "type": "quantitative", "axis": {"orient": "bottom", "offset": -176, "values": [5,10,15,25,30,35,45,50,55,65,70,75], "tickSize": -5, "tickWidth": 1.3, "labels": false, "domain": false, "title": null}},
    "y": {"field": "v", "type": "quantitative", "axis": {"orient": "left", "offset": -442, "values": [-0.01,0.01,0.02,0.03,0.04,0.06,0.07,0.08,0.09,0.11,0.12,0.13,0.14,0.16,0.17,0.18,0.19,0.21,0.22,0.23,0.24], "tickSize": -5, "tickWidth": 1.3, "labels": false, "domain": false, "title": null}},
    "text": {"field": "t"}
   }},
  {"data": {"values": [{"c": 50.65, "v": 0.1968, "t": "|η|<2.5"}, {"c": 38.44, "v": 0.1105, "t": "1<p"}, {"c": 48.27, "v": 0.1105, "t": "< 2 GeV/c"}]},
   "mark": {"type": "text", "fontSize": 14, "align": "left", "baseline": "alphabetic"},
   "encoding": {
    "x": {"field": "c", "type": "quantitative", "axis": {"orient": "top", "offset": -80, "values": [20,40,60,80], "tickSize": -9, "tickWidth": 1.3, "labels": false, "domain": false, "title": null}},
    "y": {"field": "v", "type": "quantitative", "axis": {"orient": "right", "offset": -20, "values": [0,0.05,0.1,0.15,0.2], "tickSize": -9, "tickWidth": 1.3, "labels": false, "domain": false, "title": null}},
    "text": {"field": "t"}
   }},
  {"data": {"values": [{"c": 49.7, "v": 0.2296, "t": "NN"}, {"c": 46.34, "v": 0.1074, "t": "T"}]},
   "mark": {"type": "text", "fontSize": 11, "align": "left", "baseline": "alphabetic"},
   "encoding": {"x": {"field": "c", "type": "quantitative", "axis": null}, "y": {"field": "v", "type": "quantitative", "axis": null}, "text": {"field": "t"}}}
 ],
 "resolve": {
  "scale": {"stroke": "independent", "strokeDash": "independent", "shape": "independent", "fill": "independent"},
  "legend": {"stroke": "independent", "strokeDash": "independent", "shape": "independent", "fill": "independent"},
  "axis": {"x": "independent", "y": "independent"}
 }},

 {"layer": [
  {"data": {"values": [{"x0": 0, "x1": 321, "y0": 0, "y1": 141}]},
   "mark": {"type": "rect", "fill": "#ffffff", "stroke": "#000000", "strokeWidth": 2},
   "encoding": {"x": {"field": "x0", "type": "quantitative", "scale": {"domain": [0, 321], "range": [27, 348], "nice": false, "zero": false}, "axis": null}, "x2": {"field": "x1"},
    "y": {"field": "y0", "type": "quantitative", "scale": {"domain": [0, 141], "range": [387, 528], "nice": false, "zero": false}, "axis": null}, "y2": {"field": "y1"}}},
  {"data": {"values": [
    {"x": 6, "y": 31, "t": "HIJING:"}, {"x": 77, "y": 31, "t": "dN"}, {"x": 112, "y": 31, "t": "/dη|"}, {"x": 176, "y": 31, "t": "=  705  (RHIC)"},
    {"x": 176, "y": 53, "t": "=  1775 (LHC)"},
    {"x": 8, "y": 83, "t": "❖"}, {"x": 33.8, "y": 83, "t": "Parton"}, {"x": 97.1, "y": 83, "t": "scatterings"}, {"x": 189.6, "y": 83, "t": "lead"}, {"x": 232.5, "y": 83, "t": "to"}, {"x": 258.9, "y": 83, "t": "~15%"},
    {"x": 6, "y": 105, "t": "decrease in dN"}, {"x": 126, "y": 105, "t": "/dy at RHIC & LHC!!"},
    {"x": 6, "y": 135, "t": "❖ Hadron scattering insensitive to dN/dη."}
   ]},
   "mark": {"type": "text", "align": "left", "baseline": "alphabetic", "fontSize": 17.5, "fontWeight": "bold"},
   "encoding": {"x": {"field": "x", "type": "quantitative", "axis": null}, "y": {"field": "y", "type": "quantitative", "axis": null}, "text": {"field": "t"}}},
  {"data": {"values": [{"x": 100, "y": 35, "t": "ch"}, {"x": 142, "y": 36, "t": "|η|<0.5"}, {"x": 115, "y": 109, "t": "ch"}]},
   "mark": {"type": "text", "align": "left", "baseline": "alphabetic", "fontSize": 11, "fontWeight": "bold"},
   "encoding": {"x": {"field": "x", "type": "quantitative", "axis": null}, "y": {"field": "y", "type": "quantitative", "axis": null}, "text": {"field": "t"}}}
 ]},

 {"layer": [
  {"data": {"values": [{"x0": 302, "x1": 350, "y0": 129, "y1": 131.5}]},
   "mark": {"type": "rect", "fill": "#1f3a93"},
   "encoding": {"x": {"field": "x0", "type": "quantitative", "scale": {"domain": [0, 350], "range": [370, 720], "nice": false, "zero": false}, "axis": null}, "x2": {"field": "x1"},
    "y": {"field": "y0", "type": "quantitative", "scale": {"domain": [0, 153], "range": [387, 540], "nice": false, "zero": false}, "axis": null}, "y2": {"field": "y1"}}},
  {"data": {"values": [{"x": 10, "y": 48, "t": "➢ v₂ > v₃ > v₄ > v₅ > v₆"}, {"x": 10, "y": 85, "t": "➢ vₙ from AMPT agrees with LHC data"}]},
   "mark": {"type": "text", "align": "left", "baseline": "alphabetic", "font": "DejaVu Sans", "fontSize": 17.5},
   "encoding": {"x": {"field": "x", "type": "quantitative", "axis": null}, "y": {"field": "y", "type": "quantitative", "axis": null}, "text": {"field": "t"}}},
  {"data": {"values": [{"x": 347, "y": 145, "t": "14"}]},
   "mark": {"type": "text", "align": "right", "baseline": "alphabetic", "fontSize": 13},
   "encoding": {"x": {"field": "x", "type": "quantitative", "axis": null}, "y": {"field": "y", "type": "quantitative", "axis": null}, "text": {"field": "t"}}}
 ]}
]
}
